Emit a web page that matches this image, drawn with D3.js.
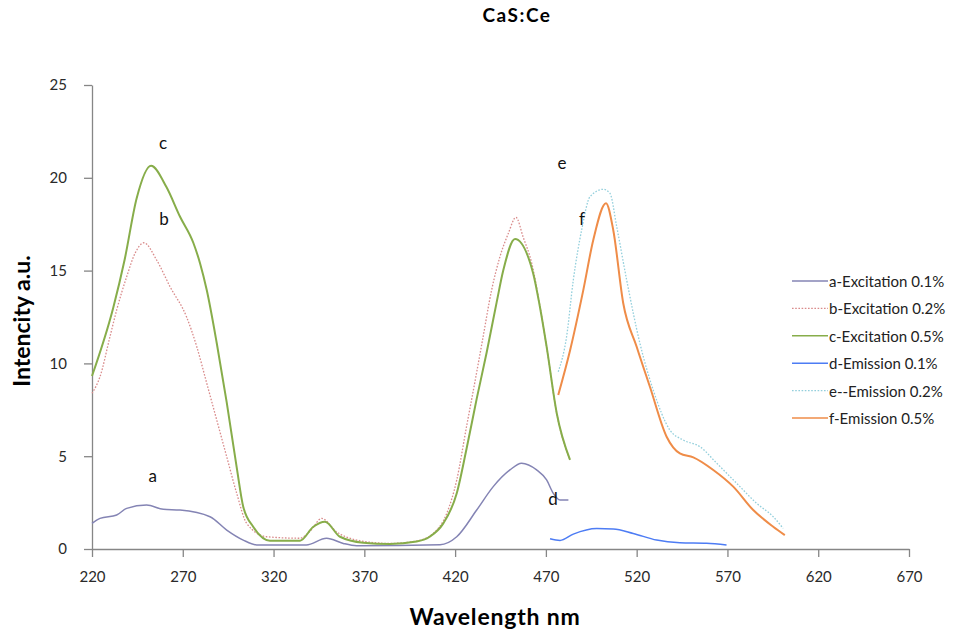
<!DOCTYPE html>
<html>
<head>
<meta charset="utf-8">
<script src="https://cdn.jsdelivr.net/npm/d3@7"></script>
<style>
  body { margin: 0; background: #fff; }
  text { font-family: Lato, "Open Sans", sans-serif; }
</style>
</head>
<body>
<div id="chart"></div>
<script>
// tick values
var xTicks = [220, 270, 320, 370, 420, 470, 520, 570, 620, 670];
var yTicks = [0, 5, 10, 15, 20, 25];

// a-Excitation 0.1%
var aWave = [220, 224.4, 233.6, 239.1, 250.1, 259.3, 268.5, 285, 294.2, 303.3, 310.7, 338, 349.2, 358.4, 365.8, 411.7, 420.9, 431.9, 441, 450.2, 456.6, 464.9, 470.4, 474.1, 477.8, 482.4];
var aVal  = [1.38, 1.65, 1.83, 2.19, 2.37, 2.14, 2.1, 1.74, 1.02, 0.48, 0.22, 0.22, 0.58, 0.3, 0.18, 0.23, 0.66, 2.1, 3.36, 4.26, 4.62, 4.26, 3.72, 3.0, 2.64, 2.64];

// b-Excitation 0.2%
var bWave = [220, 224.4, 229.9, 233.6, 239.1, 243.7, 248.6, 255.6, 263, 272.1, 277.7, 283.2, 288.7, 294.2, 299.7, 305.2, 316.2, 334.6, 340.5, 346.5, 354.7, 365.8, 384, 398.8, 408, 415.4, 420.9, 426.3, 430.9, 435, 440, 444.7, 449.3, 453.5, 457.5, 462.2, 466.7, 470.4, 476, 483.3];
var bVal  = [8.39, 9.28, 11.44, 12.88, 14.67, 15.93, 16.5, 15.57, 14.13, 12.5, 10.9, 8.93, 6.95, 4.97, 3.0, 1.38, 0.66, 0.58, 1.0, 1.65, 0.93, 0.48, 0.3, 0.43, 0.84, 1.92, 3.72, 6.6, 9.0, 11.2, 13.9, 15.75, 17.0, 17.87, 16.8, 15.4, 13.1, 10.9, 7.3, 4.8];

// c-Excitation 0.5%
var cWave = [220, 231.7, 238, 244.6, 252.5, 261, 268.5, 275.8, 279.5, 283.2, 288.7, 294.2, 299.7, 303.3, 308.8, 318, 334.6, 341.9, 348.3, 356.6, 369.4, 384, 398.8, 406, 413.5, 420.9, 426.3, 431.9, 437.4, 442.9, 446.5, 453, 463, 466.7, 470.4, 476, 483.3];
var cVal  = [9.32, 13.0, 15.6, 18.9, 20.65, 19.5, 17.9, 16.5, 15.4, 13.95, 11.1, 7.9, 4.4, 2.28, 1.2, 0.45, 0.45, 1.2, 1.47, 0.66, 0.34, 0.27, 0.4, 0.66, 1.38, 3.0, 5.4, 8.1, 10.6, 13.3, 15.0, 16.7, 14.85, 13.05, 10.9, 7.3, 4.8];

// d-Emission 0.1%
var dWave = [472.3, 477.8, 485.1, 498, 507.1, 518.1, 531, 543.8, 558.5, 569.5];
var dVal  = [0.55, 0.46, 0.8, 1.1, 1.08, 0.84, 0.48, 0.34, 0.31, 0.22];

// e--Emission 0.2%
var eWave = [476.8, 481.4, 485.1, 489.7, 494.3, 501.6, 505.3, 509, 514.5, 521.8, 529.1, 538.3, 545.7, 554.9, 564.1, 575.1, 586.1, 595.2, 600.7];
var eVal  = [9.55, 11.44, 14.49, 17.19, 18.98, 19.38, 19.16, 17.37, 14.49, 11.08, 8.57, 6.41, 5.87, 5.51, 4.62, 3.54, 2.46, 1.74, 1.11];

// f-Emission 0.5%
var fWave = [476.8, 483.3, 490.6, 496.1, 503.1, 507.1, 512.6, 520, 527.3, 536.5, 543.8, 551.2, 562.2, 573.2, 584.2, 595.2, 601.6];
var fVal  = [8.3, 10.7, 13.95, 16.65, 18.63, 17.19, 13.24, 10.9, 8.74, 6.05, 5.15, 4.94, 4.26, 3.36, 2.1, 1.2, 0.75];

var seriesNames = ["a-Excitation 0.1%", "b-Excitation 0.2%", "c-Excitation 0.5%", "d-Emission 0.1%", "e--Emission 0.2%", "f-Emission 0.5%"];
var seriesColors = ["#8484b4", "#d98b8b", "#87ad4a", "#4d7cf4", "#93cfdc", "#ef8c48"];

// letters placed next to the curves
var markLetters = ["a", "b", "c", "d", "e", "f"];
var markWave = [253.5, 259.6, 259.1, 473.9, 478.9, 489.9];
var markVal  = [3.95, 17.8, 21.9, 2.7, 20.8, 17.8];

function init(){

  var W = 954, H = 633;

  var svg = d3.select("#chart")
    .append("svg")
      .attr("width", W)
      .attr("height", H);

  var x = d3.scaleLinear().domain([220, 670]).range([92, 909]);
  var y = d3.scaleLinear().domain([0, 25]).range([549, 85]);

  // x axis
  var gx = svg.append("g")
      .attr("transform", "translate(0," + y(0) + ")")
      .call(d3.axisBottom(x).tickValues(xTicks).tickSize(8).tickSizeOuter(0).tickPadding(14));
  // y axis
  var gy = svg.append("g")
      .attr("transform", "translate(" + x(220) + ",0)")
      .call(d3.axisLeft(y).tickValues(yTicks).tickSize(8).tickSizeOuter(0).tickPadding(17));

  [gx, gy].forEach(function(g){
    g.select(".domain").attr("stroke", "#868686").attr("stroke-width", 1.3);
    g.selectAll(".tick line").attr("stroke", "#868686").attr("stroke-width", 1.3);
    g.selectAll(".tick text")
      .attr("fill", "#2a2a2a")
      .style("font-size", "15px")
      .style("font-family", "Lato, sans-serif");
  });

  // title
  svg.append("text")
    .attr("x", 517)
    .attr("y", 22)
    .attr("text-anchor", "middle")
    .style("font-size", "19px")
    .style("font-weight", "bold")
    .style("letter-spacing", "1.5px")
    .text("CaS:Ce");

  // axis labels
  svg.append("text")
    .attr("x", 495)
    .attr("y", 625)
    .attr("text-anchor", "middle")
    .style("font-size", "23px")
    .style("font-weight", "bold")
    .style("letter-spacing", "0.8px")
    .text("Wavelength nm");

  svg.append("text")
    .attr("transform", "translate(30,321) rotate(-90)")
    .attr("text-anchor", "middle")
    .style("font-size", "23px")
    .style("font-weight", "bold")
    .text("Intencity a.u.");

  var waves = [aWave, bWave, cWave, dWave, eWave, fWave];
  var vals = [aVal, bVal, cVal, dVal, eVal, fVal];
  var widths = [1.5, 1.3, 2, 1.5, 1.3, 2];
  var dashes = [null, "1.6,1.6", null, null, "1.6,1.6", null];

  var series = seriesNames.map(function(name, i){
    return {
      name: name,
      color: seriesColors[i],
      width: widths[i],
      dash: dashes[i],
      points: waves[i].map(function(w, j){ return [w, vals[i][j]]; })
    };
  });

  var line = d3.line()
    .x(function(d){ return x(d[0]); })
    .y(function(d){ return y(d[1]); })
    .curve(d3.curveMonotoneX);

  svg.selectAll("mylines")
    .data(series)
    .enter()
    .append("path")
      .attr("fill", "none")
      .attr("stroke", function(d){ return d.color; })
      .attr("stroke-width", function(d){ return d.width; })
      .attr("stroke-dasharray", function(d){ return d.dash; })
      .attr("d", function(d){ return line(d.points); });

  // curve letters
  svg.selectAll("myletters")
    .data(markLetters)
    .enter()
    .append("text")
      .attr("x", function(d, i){ return x(markWave[i]); })
      .attr("y", function(d, i){ return y(markVal[i]); })
      .attr("text-anchor", "middle")
      .attr("dominant-baseline", "central")
      .style("font-size", "17px")
      .attr("fill", "#111")
      .text(function(d){ return d; });

  // legend
  var legend = svg.selectAll("mylegend")
    .data(series)
    .enter()
    .append("g")
      .attr("transform", function(d, i){ return "translate(792," + (281 + i * 27.4) + ")"; });

  legend.append("line")
    .attr("x1", 0)
    .attr("x2", 36)
    .attr("stroke", function(d){ return d.color; })
    .attr("stroke-width", function(d){ return Math.min(d.width, 1.6); })
    .attr("stroke-dasharray", function(d){ return d.dash; });

  legend.append("text")
    .attr("x", 37)
    .attr("dominant-baseline", "central")
    .style("font-size", "15px")
    .attr("fill", "#222")
    .text(function(d){ return d.name; });
}
window.onload = init;
</script>
</body>
</html>
